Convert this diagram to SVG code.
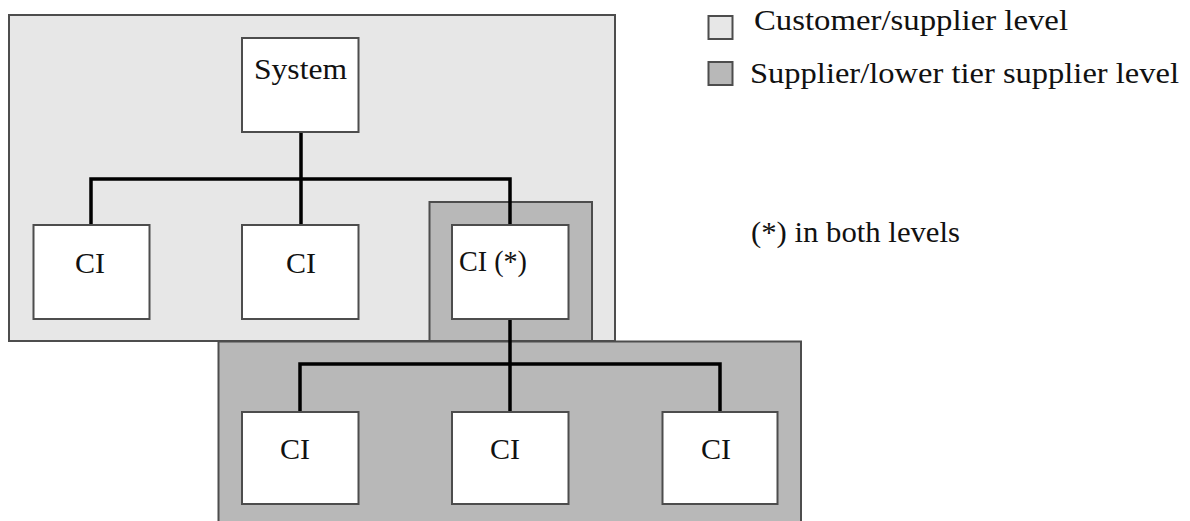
<svg xmlns="http://www.w3.org/2000/svg" width="1190" height="521" viewBox="0 0 1190 521">
<style>
.lvl1{fill:#e7e7e7;stroke:#4d4d4d;stroke-width:2}
.lvl2{fill:#b8b8b8;stroke:#4d4d4d;stroke-width:2}
.box{fill:#fff;stroke:#4d4d4d;stroke-width:2}
.t{font-family:"Liberation Serif","Times New Roman",serif;font-size:30px;fill:#111}
.lg{font-family:"Liberation Serif","Times New Roman",serif;font-size:29px;fill:#111}
.con{fill:none;stroke:#000;stroke-width:3.5}
</style>
<rect width="1190" height="521" fill="#fff"/>
<g id="level-customer">
<rect class="lvl1" x="9" y="15" width="606" height="326"/>
</g>
<g id="level-supplier-upper">
<rect class="lvl2" x="429.5" y="202" width="162.5" height="139"/>
</g>
<g id="level-supplier-lower">
<rect class="lvl2" x="218.5" y="341.5" width="582.5" height="185"/>
</g>
<g id="connectors">
<path class="con" d="M301 132V179M91 225V179H510V225M301 179V225"/>
<path class="con" d="M510 319V412M300 412V364H720V412"/>
</g>
<g id="system">
<rect class="box" x="242" y="38" width="116.5" height="94"/>
<text class="t" x="254" y="79" textLength="93" lengthAdjust="spacingAndGlyphs">System</text>
</g>
<g id="ci-1">
<rect class="box" x="33.5" y="225" width="116" height="94"/>
<text class="t" x="75" y="273">CI</text>
</g>
<g id="ci-2">
<rect class="box" x="242" y="225" width="116.5" height="94"/>
<text class="t" x="286" y="273">CI</text>
</g>
<g id="ci-star">
<rect class="box" x="452" y="225" width="116.5" height="94"/>
<text class="t" x="459" y="271" textLength="68" lengthAdjust="spacingAndGlyphs">CI (*)</text>
</g>
<g id="ci-3">
<rect class="box" x="242" y="412" width="116.5" height="92"/>
<text class="t" x="280" y="459">CI</text>
</g>
<g id="ci-4">
<rect class="box" x="452" y="412" width="116.5" height="92"/>
<text class="t" x="490" y="459">CI</text>
</g>
<g id="ci-5">
<rect class="box" x="662.5" y="412" width="115" height="92"/>
<text class="t" x="701" y="459">CI</text>
</g>
<g id="legend">
<rect class="lvl1" x="708.5" y="16" width="24" height="23"/>
<text class="lg" x="754" y="30" textLength="314" lengthAdjust="spacingAndGlyphs">Customer/supplier level</text>
<rect class="lvl2" x="708.5" y="62" width="24" height="23"/>
<text class="lg" x="750" y="83" textLength="429" lengthAdjust="spacingAndGlyphs">Supplier/lower tier supplier level</text>
<text class="lg" x="751" y="242" textLength="209" lengthAdjust="spacingAndGlyphs">(*) in both levels</text>
</g>
</svg>
